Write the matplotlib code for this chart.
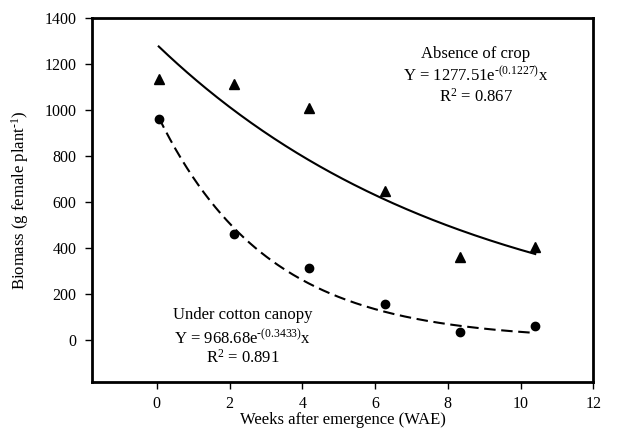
import numpy as np
import matplotlib
matplotlib.use("Agg")
import matplotlib.pyplot as plt

plt.rcParams['font.family'] = ['Liberation Serif', 'DejaVu Serif']
plt.rcParams['mathtext.fontset'] = 'custom'
plt.rcParams['mathtext.rm'] = 'Liberation Serif'
plt.rcParams['mathtext.it'] = 'Liberation Serif:italic'

weeks = [0, 2, 4, 6, 8, 10]
absence_crop = [1136, 1113, 1011, 648, 360, 403]
under_canopy = [962, 460, 312, 155, 36, 61]
fit_absence = (1277.51, 0.1227)
fit_canopy = (968.68, 0.3433)
xticks = [0, 2, 4, 6, 8, 10, 12]
yticks = [0, 200, 400, 600, 800, 1000, 1200, 1400]

fig = plt.figure(figsize=(6.2, 4.36), dpi=100)
ax = fig.add_axes([0.1484, 0.1245, 0.8086, 0.8335])
ax.set_xlim(-1.78, 12)
ax.set_ylim(-181, 1400)
ax.set_xticks(xticks)
ax.set_yticks(yticks)
ax.tick_params(direction='out', length=5, width=1, labelsize=11.5, color='black')
ax.tick_params(axis='y', pad=6)
ax.tick_params(axis='x', pad=5)
for s in ax.spines.values():
    s.set_linewidth(2)

# data layer (shares y scale)
ax2 = ax.twiny()
ax2.set_xlim(-1.772, 11.543)
ax2.set_axis_off()

xx = np.linspace(0, 10, 200)
ax2.plot(xx, fit_absence[0] * np.exp(-fit_absence[1] * xx), color='black', lw=1.5)
ax2.plot(xx, fit_canopy[0] * np.exp(-fit_canopy[1] * xx), color='black', lw=1.5,
         dashes=(5.5, 2.7))
ax2.plot(weeks, absence_crop, linestyle='none', marker='^', ms=7.5, color='black')
ax2.plot(weeks, under_canopy, linestyle='none', marker='o', ms=6, color='black')

ax.set_xlabel('Weeks after emergence (WAE)', fontsize=12, labelpad=0)
ax.set_ylabel(r'Biomass (g female plant$^{\text{-1}}$)', fontsize=12, labelpad=10)

def px(x, y):
    return (x / 620, 1 - y / 436)

fs = 12
fig.text(*px(476, 54), 'Absence of crop', ha='center', va='center', fontsize=fs)
fig.text(*px(476, 75), r'Y = 1277.51e$^{\text{-(0.1227)}}$x', ha='center', va='center', fontsize=fs)
fig.text(*px(476, 97), r'R$^{\text{2}}$ = 0.867', ha='center', va='center', fontsize=fs)
fig.text(*px(243, 315), 'Under cotton canopy', ha='center', va='center', fontsize=fs)
fig.text(*px(243, 338), r'Y = 968.68e$^{\text{-(0.3433)}}$x', ha='center', va='center', fontsize=fs)
fig.text(*px(243, 358), r'R$^{\text{2}}$ = 0.891', ha='center', va='center', fontsize=fs)

fig.savefig('out.png', dpi=100)
